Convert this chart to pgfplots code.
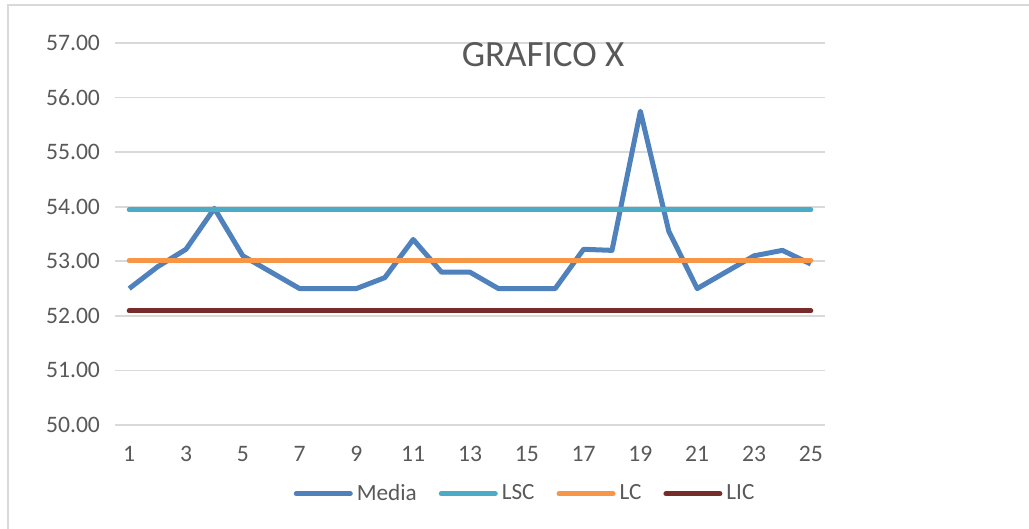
\documentclass[border=0pt]{standalone}
\usepackage{pgfplots}
\pgfplotsset{compat=1.18}
\usepackage{fontspec}
\setmainfont{Carlito}
\definecolor{media}{HTML}{4F81BD}
\definecolor{lsc}{HTML}{4BACC6}
\definecolor{lc}{HTML}{F79646}
\definecolor{lic}{HTML}{772C2A}
\definecolor{txt}{HTML}{595959}
\definecolor{grd}{HTML}{D9D9D9}
\begin{document}
\begin{tikzpicture}[x=1pt,y=1pt]
\useasboundingbox (-57.5,-52) rectangle (457,212.5);
\draw[grd,line width=1pt] (-53.5,-60) -- (-53.5,209.75) -- (470,209.75);
\begin{axis}[
  at={(0,0)},anchor=south west,
  scale only axis,
  width=355pt,height=191pt,
  xmin=0.5,xmax=25.5,
  ymin=50,ymax=57,
  xtick={1,3,...,25},
  ytick={50,...,57},
  axis line style={draw=none},
  major tick length=0pt,
  ymajorgrids,
  grid style={grd,line width=0.9pt},
  tick label style={font=\fontsize{11.8}{13}\selectfont,text=txt},
  yticklabel style={/pgf/number format/.cd,fixed,fixed zerofill,precision=2,assume math mode=true},
  xticklabel style={/pgf/number format/assume math mode=true},
  yticklabel shift=4pt,
  xticklabel shift=7pt,
  title={GRAFICO X},
  title style={at={(axis description cs:0.603,0.939)},anchor=center,font=\fontsize{18.5}{21}\selectfont,text=txt},
  legend columns=-1,
  legend style={at={(axis description cs:0.579,-0.18)},anchor=center,draw=none,fill=none,
    font=\fontsize{11.6}{13}\selectfont,text=txt,
    /tikz/every even column/.append style={column sep=9pt}},
  legend image code/.code={\draw[#1,line cap=round] (0pt,0pt) -- (27pt,0pt);},
  every axis plot/.append style={line width=2.5pt,mark=none},
]
\addplot[media,line join=round] coordinates {
(1,52.50) (2,52.90) (3,53.22) (4,53.97) (5,53.10) (6,52.80) (7,52.50) (8,52.50)
(9,52.50) (10,52.70) (11,53.40) (12,52.80) (13,52.80) (14,52.50) (15,52.50)
(16,52.50) (17,53.22) (18,53.20) (19,55.75) (20,53.55) (21,52.50) (22,52.80)
(23,53.10) (24,53.20) (25,52.95)};
\addlegendentry{Media}
\addplot[lsc,line cap=round] coordinates {(1,53.94) (25,53.94)};
\addlegendentry{LSC}
\addplot[lc,line cap=round] coordinates {(1,53.01) (25,53.01)};
\addlegendentry{LC}
\addplot[lic,line cap=round] coordinates {(1,52.09) (25,52.09)};
\addlegendentry{LIC}
\end{axis}
\end{tikzpicture}
\end{document}
